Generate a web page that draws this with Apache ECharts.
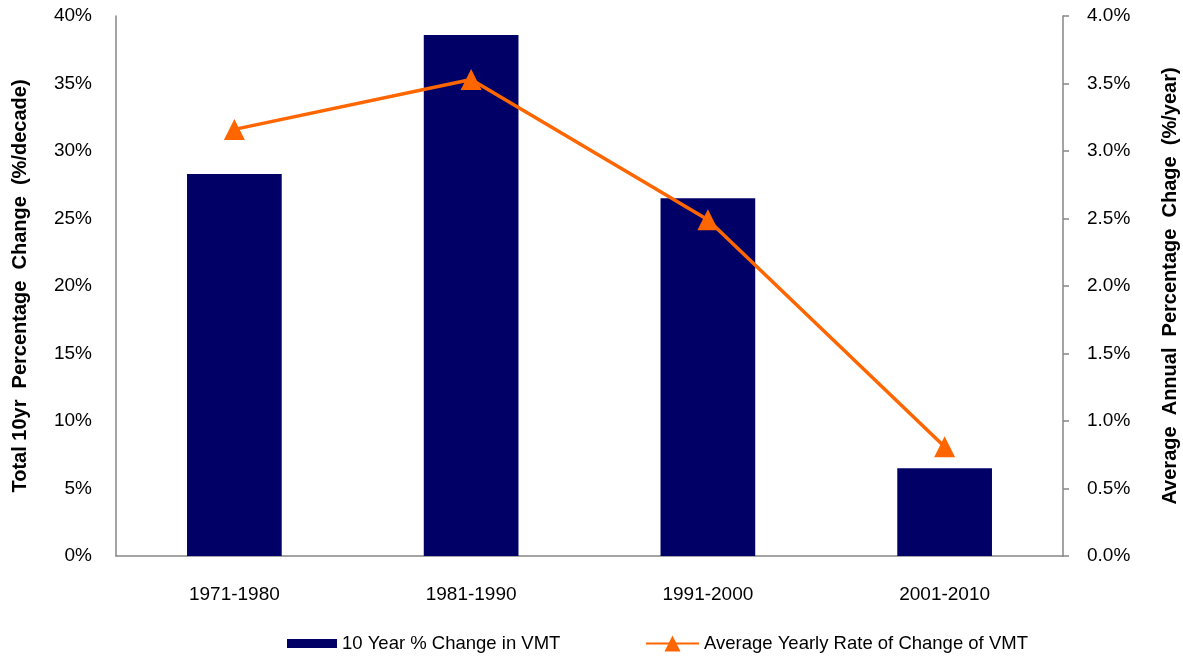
<!DOCTYPE html>
<html>
<head>
<meta charset="utf-8">
<script src="https://cdn.jsdelivr.net/npm/echarts@6/dist/echarts.min.js"></script>
<style>
  html, body { margin: 0; padding: 0; background: #fff; overflow: hidden; }
  #chart { width: 1183px; height: 656px; }
</style>
</head>
<body>
<div id="chart"></div>
<script>
// Decades and the two VMT measures per decade
const categories = ['1971-1980', '1981-1990', '1991-2000', '2001-2010'];
const tenYearChange = [28.3, 38.6, 26.5, 6.5];      // % per decade (left axis)
const yearlyRate = [3.16, 3.53, 2.49, 0.81];         // % per year (right axis)
const barName = '10 Year % Change in VMT';
const lineName = 'Average Yearly Rate of Change of VMT';
const leftTitle = 'Total 10yr  Percentage  Change  (%/decade)';
const rightTitle = 'Average  Annual  Percentage  Chage  (%/year)';

const FONT = 'Liberation Sans, Arial, sans-serif';
const AXIS_GRAY = '#868686';
const NAVY = '#000066';
const ORANGE = '#FF6600';

const chart = echarts.init(document.getElementById('chart'), null, { renderer: 'canvas' });

const legendText = { fontFamily: FONT, fontSize: 18.5, color: '#000' };
const tickText = { color: '#000', fontSize: 19, fontFamily: FONT };

chart.setOption({
  animation: false,
  textStyle: { fontFamily: FONT },
  grid: { left: 116, right: 120, top: 16, bottom: 100, outerBoundsMode: 'none', containLabel: false },
  legend: [
    {
      left: 287,
      top: 634,
      padding: 0,
      itemWidth: 50,
      itemHeight: 9,
      textStyle: legendText,
      data: [{ name: barName, icon: 'rect' }]
    },
    {
      left: 645,
      top: 634,
      padding: 0,
      itemWidth: 53,
      itemHeight: 20,
      textStyle: legendText,
      data: [{ name: lineName, lineStyle: { width: 2 } }]
    }
  ],
  xAxis: {
    type: 'category',
    data: categories,
    axisLine: { lineStyle: { color: AXIS_GRAY, width: 1.5 } },
    axisTick: { show: false },
    axisLabel: { color: '#000', fontSize: 19, margin: 29, fontFamily: FONT }
  },
  yAxis: [
    {
      type: 'value',
      min: 0, max: 40, interval: 5,
      position: 'left',
      name: leftTitle,
      nameLocation: 'middle',
      nameGap: 86,
      nameTextStyle: { fontSize: 20, fontWeight: 'bold', color: '#000', fontFamily: FONT },
      axisLine: { show: true, lineStyle: { color: AXIS_GRAY, width: 1.5 } },
      axisTick: { show: false },
      splitLine: { show: false },
      axisLabel: Object.assign({ margin: 24, formatter: v => v + '%' }, tickText)
    },
    {
      type: 'value',
      min: 0, max: 4, interval: 0.5,
      position: 'right',
      name: rightTitle,
      nameLocation: 'middle',
      nameGap: 97,
      nameRotate: 90,
      nameTextStyle: { fontSize: 20, fontWeight: 'bold', color: '#000', fontFamily: FONT },
      axisLine: { show: true, lineStyle: { color: AXIS_GRAY, width: 1.5 } },
      axisTick: { show: true, inside: false, length: 6, lineStyle: { color: AXIS_GRAY, width: 1.5 } },
      splitLine: { show: false },
      axisLabel: Object.assign({ margin: 24, formatter: v => v.toFixed(1) + '%' }, tickText)
    }
  ],
  series: [
    {
      name: barName,
      type: 'bar',
      yAxisIndex: 0,
      data: tenYearChange,
      barWidth: '40%',
      itemStyle: { color: NAVY }
    },
    {
      name: lineName,
      type: 'line',
      yAxisIndex: 1,
      data: yearlyRate,
      symbol: 'triangle',
      symbolSize: [21, 21],
      lineStyle: { color: ORANGE, width: 3.5 },
      itemStyle: { color: ORANGE }
    }
  ]
});
</script>
</body>
</html>
